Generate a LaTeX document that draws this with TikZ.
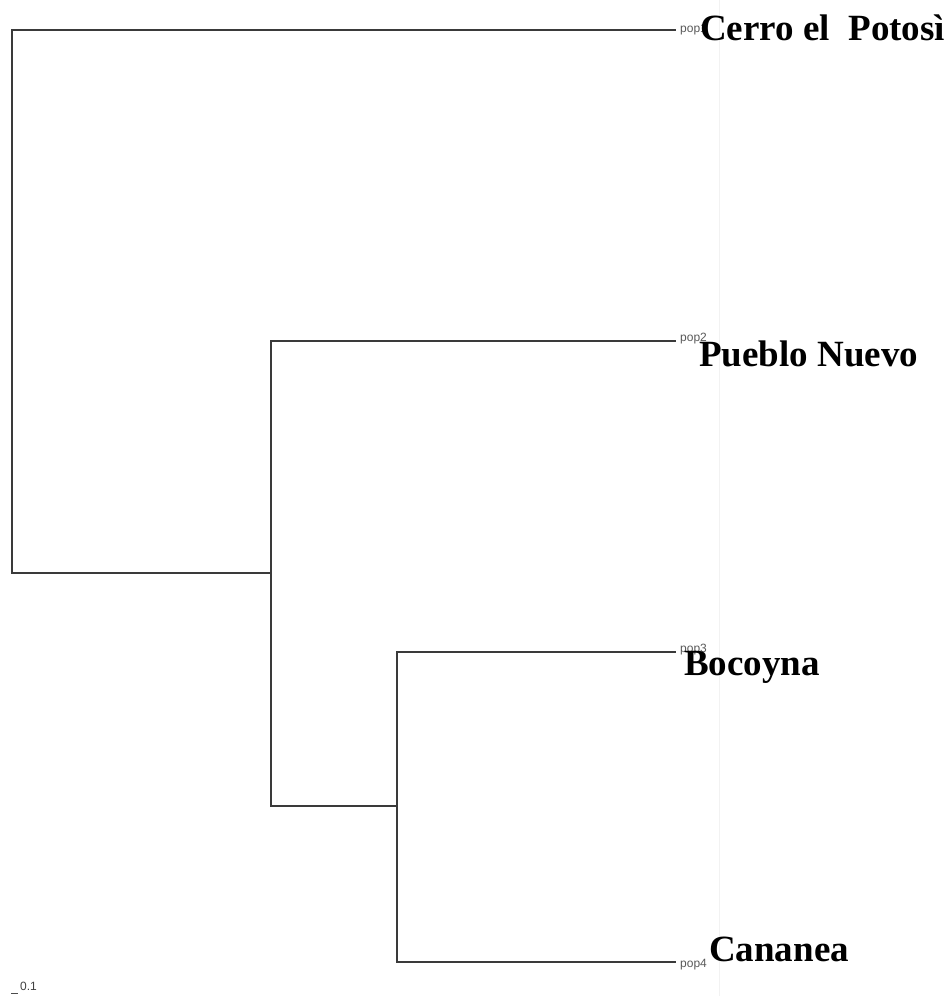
\documentclass[tikz,border=0pt]{standalone}
\usepackage{fontspec}
\setmainfont{Liberation Serif}
\newfontfamily\popfont{Liberation Sans}
\definecolor{branch}{HTML}{3A3A3A}
\begin{document}
\begin{tikzpicture}[x=1pt,y=-1pt,
  edge/.style={draw=branch,line width=1.6pt,line cap=rect},
  poplab/.style={font=\popfont\fontsize{12}{12}\selectfont,text=black!65,anchor=west,inner sep=0pt},
  sitelab/.style={font=\bfseries\fontsize{37}{37}\selectfont,anchor=base west,inner sep=0pt}]
\useasboundingbox (0,0) rectangle (952,996);
\draw[black!5,line width=1pt] (719,0) -- (719,996);
% internal nodes and tips
\coordinate (root) at (12,573);
\coordinate (n2) at (271,806);
\coordinate (n3) at (397,806);
\coordinate (t1) at (675,30);
\coordinate (t2) at (675,341);
\coordinate (t3) at (675,652);
\coordinate (t4) at (675,962);
\coordinate (r1) at (12,30);
\coordinate (r2) at (271,341);
\coordinate (r3) at (397,652);
\coordinate (r4) at (397,962);
\coordinate (rr) at (271,573);
\path[edge] (t1) -- (r1) -- (root) -- (rr);
\path[edge] (t2) -- (r2) -- (n2) -- (n3);
\path[edge] (t3) -- (r3) -- (r4) -- (t4);
% labels
\node[poplab] (p1) at (680,30) {pop1};
\node[poplab] (p2) at (680,339) {pop2};
\node[poplab] (p3) at (680,650) {pop3};
\node[poplab] (p4) at (680,965) {pop4};
\node[sitelab] (s1) at (700,40) {Cerro el\ \ Potosì};
\node[sitelab] (s2) at (699,366) {Pueblo Nuevo};
\node[sitelab] (s3) at (684,675) {Bocoyna};
\node[sitelab] (s4) at (709,961) {Cananea};
% scale
\draw[black!70,line width=0.8pt] (11,993) coordinate (sb1) -- (18,993) coordinate (sb2);
\node[font=\popfont\fontsize{12}{12}\selectfont,text=black!75,anchor=base west,inner sep=0pt] (scale) at (20,990) {0.1};
\end{tikzpicture}
\end{document}
